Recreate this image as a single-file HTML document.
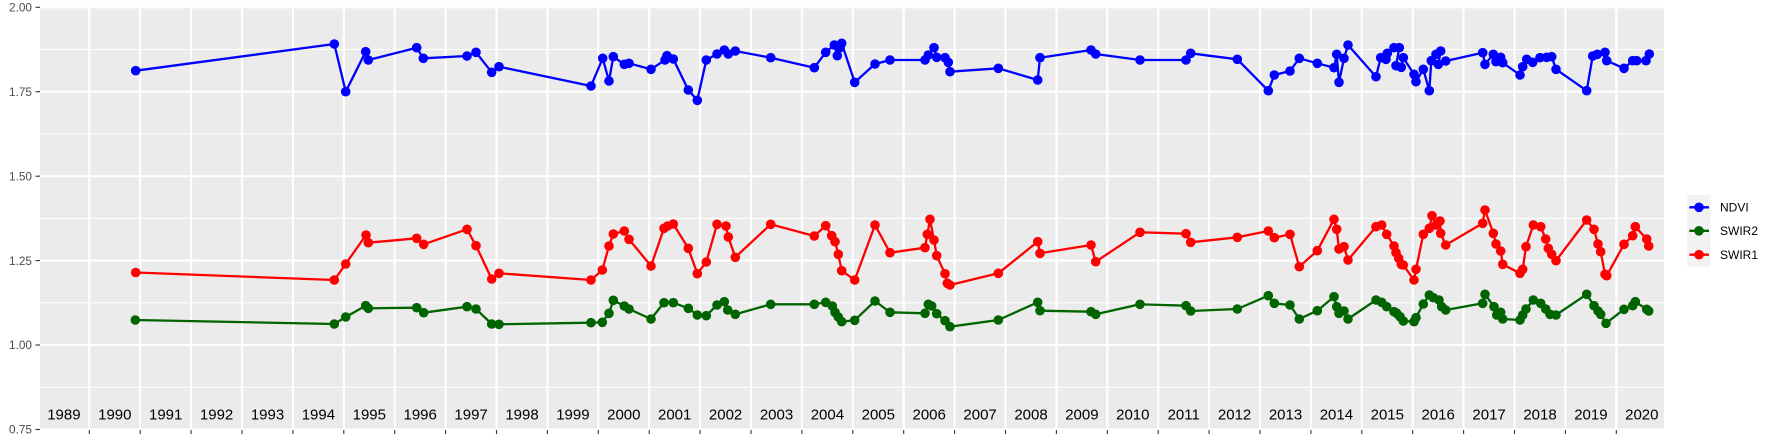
<!DOCTYPE html>
<html><head><meta charset="utf-8"><style>
html,body{margin:0;padding:0;background:#fff;}
svg{display:block;}
text{font-family:"Liberation Sans",Arial,sans-serif;}
</style></head><body>
<svg width="1773" height="442" viewBox="0 0 1773 442" xmlns="http://www.w3.org/2000/svg">
<defs>
<clipPath id="pc"><rect x="40" y="7.3" width="1624" height="422.4"/></clipPath>
<marker id="mb" markerUnits="userSpaceOnUse" markerWidth="12" markerHeight="12" refX="6" refY="6" viewBox="0 0 12 12"><circle cx="6" cy="6" r="4.8" fill="#0000FF"/></marker>
<marker id="mg" markerUnits="userSpaceOnUse" markerWidth="12" markerHeight="12" refX="6" refY="6" viewBox="0 0 12 12"><circle cx="6" cy="6" r="4.8" fill="#006400"/></marker>
<marker id="mr" markerUnits="userSpaceOnUse" markerWidth="12" markerHeight="12" refX="6" refY="6" viewBox="0 0 12 12"><circle cx="6" cy="6" r="4.8" fill="#FF0000"/></marker>
</defs>
<rect x="40" y="7.3" width="1624" height="422.4" fill="#EBEBEB"/>
<g clip-path="url(#pc)">
<g stroke="#FFFFFF" stroke-width="1.1">
<line x1="40" x2="1664" y1="49.5" y2="49.5"/>
<line x1="40" x2="1664" y1="133.9" y2="133.9"/>
<line x1="40" x2="1664" y1="218.4" y2="218.4"/>
<line x1="40" x2="1664" y1="302.8" y2="302.8"/>
<line x1="40" x2="1664" y1="387.3" y2="387.3"/>
</g>
<g stroke="#FFFFFF" stroke-width="2.1">
<line x1="40" x2="1664" y1="7.3" y2="7.3"/>
<line x1="40" x2="1664" y1="91.7" y2="91.7"/>
<line x1="40" x2="1664" y1="176.2" y2="176.2"/>
<line x1="40" x2="1664" y1="260.6" y2="260.6"/>
<line x1="40" x2="1664" y1="345.0" y2="345.0"/>
<line x1="40" x2="1664" y1="429.5" y2="429.5"/>
<line y1="7" y2="430" x1="89.3" x2="89.3"/>
<line y1="7" y2="430" x1="140.2" x2="140.2"/>
<line y1="7" y2="430" x1="191.1" x2="191.1"/>
<line y1="7" y2="430" x1="242.0" x2="242.0"/>
<line y1="7" y2="430" x1="292.9" x2="292.9"/>
<line y1="7" y2="430" x1="343.8" x2="343.8"/>
<line y1="7" y2="430" x1="394.7" x2="394.7"/>
<line y1="7" y2="430" x1="445.6" x2="445.6"/>
<line y1="7" y2="430" x1="496.5" x2="496.5"/>
<line y1="7" y2="430" x1="547.4" x2="547.4"/>
<line y1="7" y2="430" x1="598.3" x2="598.3"/>
<line y1="7" y2="430" x1="649.2" x2="649.2"/>
<line y1="7" y2="430" x1="700.1" x2="700.1"/>
<line y1="7" y2="430" x1="751.0" x2="751.0"/>
<line y1="7" y2="430" x1="801.9" x2="801.9"/>
<line y1="7" y2="430" x1="852.8" x2="852.8"/>
<line y1="7" y2="430" x1="903.7" x2="903.7"/>
<line y1="7" y2="430" x1="954.6" x2="954.6"/>
<line y1="7" y2="430" x1="1005.5" x2="1005.5"/>
<line y1="7" y2="430" x1="1056.4" x2="1056.4"/>
<line y1="7" y2="430" x1="1107.3" x2="1107.3"/>
<line y1="7" y2="430" x1="1158.2" x2="1158.2"/>
<line y1="7" y2="430" x1="1209.1" x2="1209.1"/>
<line y1="7" y2="430" x1="1260.0" x2="1260.0"/>
<line y1="7" y2="430" x1="1310.9" x2="1310.9"/>
<line y1="7" y2="430" x1="1361.8" x2="1361.8"/>
<line y1="7" y2="430" x1="1412.7" x2="1412.7"/>
<line y1="7" y2="430" x1="1463.6" x2="1463.6"/>
<line y1="7" y2="430" x1="1514.5" x2="1514.5"/>
<line y1="7" y2="430" x1="1565.4" x2="1565.4"/>
<line y1="7" y2="430" x1="1616.3" x2="1616.3"/>
</g>

<g font-size="15" fill="#000" text-anchor="middle">
<text x="63.9" y="419.5">1989</text>
<text x="114.8" y="419.5">1990</text>
<text x="165.7" y="419.5">1991</text>
<text x="216.6" y="419.5">1992</text>
<text x="267.5" y="419.5">1993</text>
<text x="318.4" y="419.5">1994</text>
<text x="369.3" y="419.5">1995</text>
<text x="420.2" y="419.5">1996</text>
<text x="471.1" y="419.5">1997</text>
<text x="522.0" y="419.5">1998</text>
<text x="572.9" y="419.5">1999</text>
<text x="623.8" y="419.5">2000</text>
<text x="674.7" y="419.5">2001</text>
<text x="725.6" y="419.5">2002</text>
<text x="776.5" y="419.5">2003</text>
<text x="827.4" y="419.5">2004</text>
<text x="878.3" y="419.5">2005</text>
<text x="929.2" y="419.5">2006</text>
<text x="980.1" y="419.5">2007</text>
<text x="1031.0" y="419.5">2008</text>
<text x="1081.9" y="419.5">2009</text>
<text x="1132.8" y="419.5">2010</text>
<text x="1183.7" y="419.5">2011</text>
<text x="1234.6" y="419.5">2012</text>
<text x="1285.5" y="419.5">2013</text>
<text x="1336.4" y="419.5">2014</text>
<text x="1387.3" y="419.5">2015</text>
<text x="1438.2" y="419.5">2016</text>
<text x="1489.1" y="419.5">2017</text>
<text x="1540.0" y="419.5">2018</text>
<text x="1590.9" y="419.5">2019</text>
<text x="1641.8" y="419.5">2020</text>
</g>

<polyline fill="none" stroke="#0000FF" stroke-width="2.3" stroke-linejoin="round" marker-start="url(#mb)" marker-mid="url(#mb)" marker-end="url(#mb)" points="135.7,70.7 334.3,44 345.7,91.7 365.7,51.7 368.3,60 416.7,47.7 423.3,58.3 467,56 476,52.3 491.7,72.3 499,66.7 591,86 602.7,58.3 609,81 613.3,56.7 624.3,64.3 629,63.3 651,69.3 665,60 667,55.7 673.3,59 688.3,90 697.3,100.3 706.3,60 717,54 724.3,50 728.3,54 735.3,51 770.7,57.7 814.3,67.7 825.7,52.3 834.3,45 837.3,55.7 840,47.7 841.7,43.3 854.7,82.3 875,64 890,60 925,60 928.3,55 934,47.7 936.7,57.3 945,57.7 948.3,62.3 950,71.7 998.3,68.3 1037.7,80 1040,57.7 1091,50 1095.7,54 1140,60 1186,60 1190.7,53.3 1237.3,59.3 1268.3,90.7 1274.3,75 1290,71 1299.3,58.3 1317.3,63.3 1334,67.7 1336.7,54.3 1339,82.3 1344,58.3 1348,45 1376,76.7 1380.7,57.7 1386,59.3 1387.3,53.3 1394,47.7 1399.3,47.7 1396,65.7 1401.3,67.3 1403.3,57.7 1414,74.3 1416,81.7 1423.3,69.3 1429.3,90.7 1431.3,60.7 1436,54.3 1440.7,51 1438.3,64.3 1445.7,61 1482.7,52.7 1485,64.3 1493.3,54.3 1496,61.7 1500.7,57.3 1502.7,62.7 1520,75 1522.7,66.7 1526.7,59.3 1532.7,62.3 1540,57.7 1546.7,57.3 1551.7,56.7 1556,69.3 1586.7,90.7 1592.7,56 1597.3,54.3 1605,52.3 1606.7,60.7 1624,68.3 1632.7,60.7 1636.7,60.7 1646,60.7 1649.3,54"/>

<polyline fill="none" stroke="#006400" stroke-width="2.3" stroke-linejoin="round" marker-start="url(#mg)" marker-mid="url(#mg)" marker-end="url(#mg)" points="135.3,320 334.3,324 345.7,317 365.7,305.7 368.3,308.3 416.7,307.7 423.7,312.7 467,306.7 476,309 491.7,324 499,324.3 591,322.7 602.3,322.3 609,313.3 613.3,300.3 624.3,306 629,309 651,319 664,302.7 673.3,302.7 688.3,308.3 697.3,315 706.3,315.7 717,305 724.3,301.7 727.7,310 735.3,314.3 770.7,304.3 814.3,304.3 825.7,302.3 832.3,306 835,312.3 838.3,317 841.7,321.7 854.7,320.3 875,301 890,312.3 925,313.3 928.3,304.3 931.7,306 936.7,313.7 945,320.7 950,326.7 998.3,320 1037.7,302.3 1040,310.7 1091,311.7 1095.7,314.3 1140,304.3 1186,305.7 1190.7,311 1237.3,309 1268.3,295.7 1274.3,303.3 1290,305 1299.3,319 1317.3,310.7 1334,296.7 1336.7,306.7 1339,313.3 1344,311 1348,319 1376,300 1381.7,302.3 1386.7,306.7 1394,311.7 1396.7,313.3 1400,316.7 1403.3,321 1414,321.7 1416,317.7 1423.3,304 1429.3,295 1433.3,297.7 1439,300 1441.7,306.7 1445.7,310 1482.7,303.3 1485,294.3 1494,306.7 1496.7,315 1500.7,312.3 1502.7,319 1520,320 1522.7,315 1526,309 1533.3,300 1540.7,303.3 1545.7,309 1550,314.3 1556,315 1586.7,294.3 1594,305.7 1598,311 1600.7,314.3 1606,323.3 1624,309.3 1632.7,305.7 1635.3,301.7 1646.7,309.3 1648.7,311"/>

<polyline fill="none" stroke="#FF0000" stroke-width="2.3" stroke-linejoin="round" marker-start="url(#mr)" marker-mid="url(#mr)" marker-end="url(#mr)" points="135.7,272.5 334.3,280 345.7,264 366,235 368.3,242.7 416.7,238.3 423.7,244.3 467,229.3 476,245.7 491.7,279 499,273.3 591,280 602.3,270 609,246 613.3,234 624.3,231 629,239.3 651,266 664,228.3 667.7,226 673.3,224 688.3,248.3 697.3,273.7 706.3,262 717,224.3 726,226 728.3,237 735.3,257.3 770.7,224.3 814.3,236 825.7,225.7 831.7,235.7 835,241.7 838.3,254.3 841.7,270.7 854.7,280 875,225 890,252.7 925,247.7 927.3,234.3 930,219.3 934,240 936.7,255.7 945,273.7 947.3,283.3 950,285 998.3,273.3 1037.7,241.7 1040,253.3 1091,245 1095.7,261.7 1140,232.3 1186,233.7 1190.7,242.3 1237.3,237.3 1268.3,231 1274.3,237.7 1290,234.3 1299.3,266.7 1317.3,250.7 1334,219.3 1336.7,229.3 1339,249 1344,246.7 1348,260 1376,226.7 1381.7,225 1386.7,234.3 1394,246 1396,252.7 1398.7,258.3 1401.3,264.3 1403.3,265 1414,280 1416,269.3 1423.3,234.3 1429.3,228.3 1432,215.7 1436,225 1440,221 1440.7,233.3 1445.7,245 1482.7,223.3 1485,210 1493.3,233.3 1496,244 1500.7,251 1502.7,264.3 1520,273.3 1522.7,269.3 1526,246.7 1533.3,225 1540.7,226.7 1545.7,239 1548.3,248.3 1551.7,254.3 1556,260.7 1586.7,220 1594,229.3 1598,244 1600.7,251.7 1605,274.3 1606.7,275.7 1624,244.3 1632.7,235.7 1635.3,226.7 1646.7,239 1648.7,246"/>
</g>

<!-- y axis -->
<g stroke="#333333" stroke-width="1.1">
<line x1="35.5" x2="40" y1="7.3" y2="7.3"/>
<line x1="35.5" x2="40" y1="91.7" y2="91.7"/>
<line x1="35.5" x2="40" y1="176.2" y2="176.2"/>
<line x1="35.5" x2="40" y1="260.6" y2="260.6"/>
<line x1="35.5" x2="40" y1="345.0" y2="345.0"/>
<line x1="35.5" x2="40" y1="429.5" y2="429.5"/>
</g>
<g font-size="11.8" fill="#4D4D4D" text-anchor="end">
<text x="32" y="11.5">2.00</text>
<text x="32" y="95.9">1.75</text>
<text x="32" y="180.4">1.50</text>
<text x="32" y="264.8">1.25</text>
<text x="32" y="349.2">1.00</text>
<text x="32" y="433.7">0.75</text>
</g>
<!-- x ticks -->
<g stroke="#333333" stroke-width="1.1">
<line y1="430" y2="434" x1="89.3" x2="89.3"/><line y1="430" y2="434" x1="140.2" x2="140.2"/><line y1="430" y2="434" x1="191.1" x2="191.1"/><line y1="430" y2="434" x1="242.0" x2="242.0"/><line y1="430" y2="434" x1="292.9" x2="292.9"/><line y1="430" y2="434" x1="343.8" x2="343.8"/><line y1="430" y2="434" x1="394.7" x2="394.7"/><line y1="430" y2="434" x1="445.6" x2="445.6"/><line y1="430" y2="434" x1="496.5" x2="496.5"/><line y1="430" y2="434" x1="547.4" x2="547.4"/><line y1="430" y2="434" x1="598.3" x2="598.3"/><line y1="430" y2="434" x1="649.2" x2="649.2"/><line y1="430" y2="434" x1="700.1" x2="700.1"/><line y1="430" y2="434" x1="751.0" x2="751.0"/><line y1="430" y2="434" x1="801.9" x2="801.9"/><line y1="430" y2="434" x1="852.8" x2="852.8"/><line y1="430" y2="434" x1="903.7" x2="903.7"/><line y1="430" y2="434" x1="954.6" x2="954.6"/><line y1="430" y2="434" x1="1005.5" x2="1005.5"/><line y1="430" y2="434" x1="1056.4" x2="1056.4"/><line y1="430" y2="434" x1="1107.3" x2="1107.3"/><line y1="430" y2="434" x1="1158.2" x2="1158.2"/><line y1="430" y2="434" x1="1209.1" x2="1209.1"/><line y1="430" y2="434" x1="1260.0" x2="1260.0"/><line y1="430" y2="434" x1="1310.9" x2="1310.9"/><line y1="430" y2="434" x1="1361.8" x2="1361.8"/><line y1="430" y2="434" x1="1412.7" x2="1412.7"/><line y1="430" y2="434" x1="1463.6" x2="1463.6"/><line y1="430" y2="434" x1="1514.5" x2="1514.5"/><line y1="430" y2="434" x1="1565.4" x2="1565.4"/><line y1="430" y2="434" x1="1616.3" x2="1616.3"/>
</g>

<!-- legend -->
<rect x="1687.3" y="195" width="23.4" height="71.7" fill="#F2F2F2"/>
<g stroke-width="2.3">
<line x1="1689.3" x2="1709" y1="207.3" y2="207.3" stroke="#0000FF"/>
<line x1="1689.3" x2="1709" y1="230.8" y2="230.8" stroke="#006400"/>
<line x1="1689.3" x2="1709" y1="254.7" y2="254.7" stroke="#FF0000"/>
</g>
<circle cx="1699" cy="207.3" r="4.8" fill="#0000FF"/>
<circle cx="1699" cy="230.8" r="4.8" fill="#006400"/>
<circle cx="1699" cy="254.7" r="4.8" fill="#FF0000"/>
<g font-size="12" fill="#000">
<text x="1720" y="211.6">NDVI</text>
<text x="1720" y="235.1">SWIR2</text>
<text x="1720" y="259">SWIR1</text>
</g>
</svg>
</body></html>
